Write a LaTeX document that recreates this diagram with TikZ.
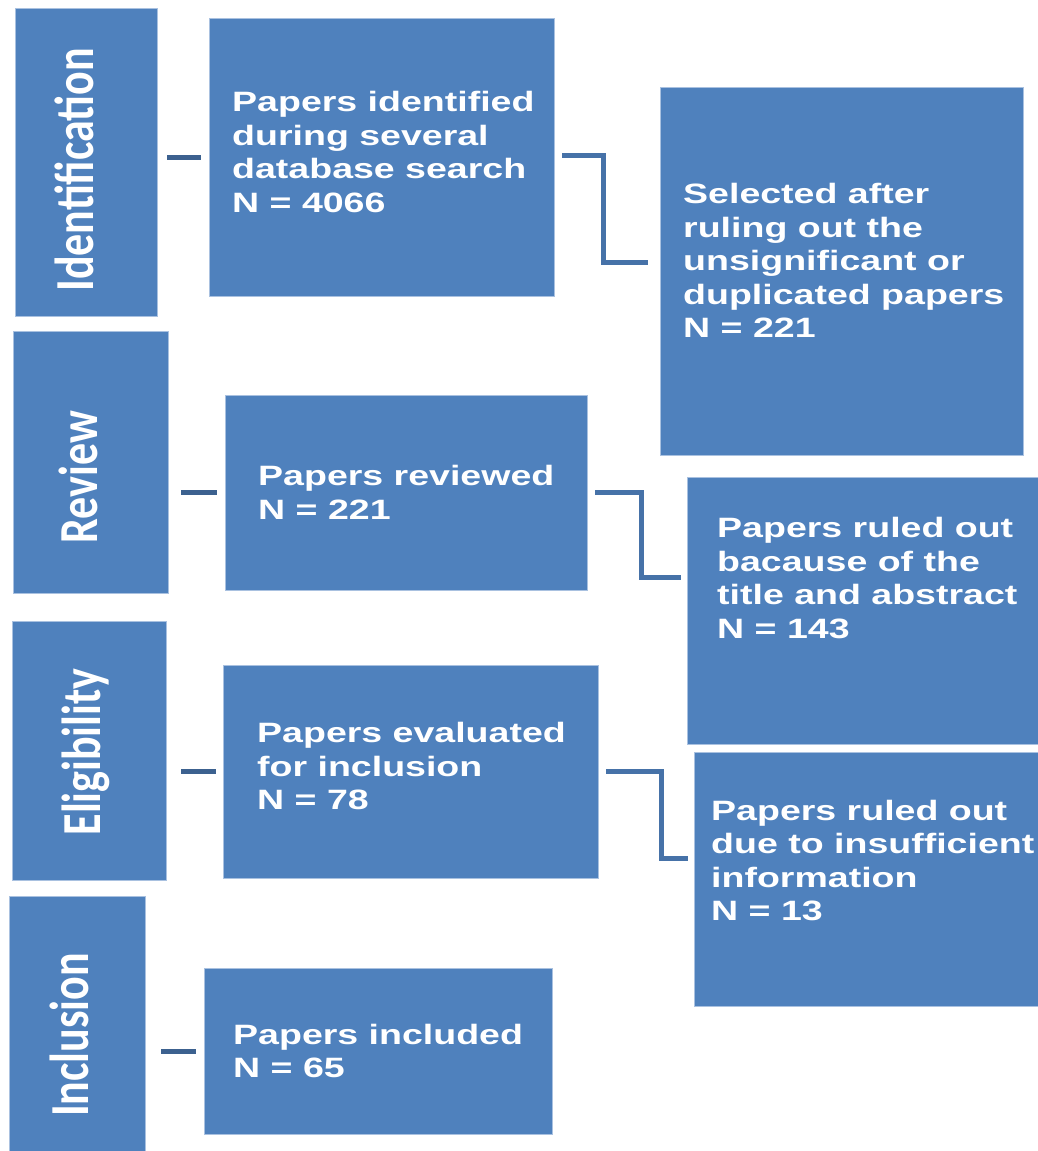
\documentclass[tikz,border=0pt]{standalone}
\usepackage{fontspec}
\newfontfamily\boxfont{Liberation Sans}[FakeStretch=1.34]
\newfontfamily\labfont{Carlito}
\definecolor{boxblue}{HTML}{4F81BD}
\definecolor{edgeblue}{HTML}{A9C1E0}
\definecolor{linkblue}{HTML}{4672A8}
\tikzset{
  mbox/.style={rectangle, fill=boxblue, draw=edgeblue, line width=0.8pt, inner sep=0pt},
  mtext/.style={anchor=north west, inner sep=0pt, align=left, text=white,
     font=\boxfont\bfseries\fontsize{28}{33.5}\selectfont},
  ltext/.style={anchor=base, rotate=90, inner sep=0pt, text=white,
     font=\labfont\bfseries\fontsize{44}{48}\selectfont},
  dashline/.style={draw=linkblue!85!black, line width=5pt},
  elbow/.style={draw=linkblue, line width=5pt}
}
\begin{document}
\begin{tikzpicture}[x=1pt,y=-1pt]
\useasboundingbox (0,0) rectangle (1037,1151);
% stage boxes
\node[mbox, minimum width=142, minimum height=308] (lab1) at (86,162) {};
\node[mbox, minimum width=155, minimum height=262] (lab2) at (90.5,462) {};
\node[mbox, minimum width=154, minimum height=259] (lab3) at (89,750.5) {};
\node[mbox, minimum width=136, minimum height=258] (lab4) at (77,1025) {};
\node[ltext] (t1) at (93,170) {\scalebox{1}[1.25]{Identification}};
\node[ltext] (t2) at (97,477) {\scalebox{1}[1.25]{Review}};
\node[ltext] (t3) at (100,752) {\scalebox{1}[1.25]{Eligibility}};
\node[ltext] (t4) at (88,1035) {\scalebox{1}[1.25]{Inclusion}};
% content boxes
\node[mbox, minimum width=345, minimum height=278] (b1) at (381.5,157) {};
\node[mbox, minimum width=363, minimum height=368] (b2) at (841.5,271) {};
\node[mbox, minimum width=362, minimum height=195] (b3) at (406,492.5) {};
\node[mbox, minimum width=353, minimum height=267] (b4) at (863.5,610.5) {};
\node[mbox, minimum width=375, minimum height=213] (b5) at (410.5,771.5) {};
\node[mbox, minimum width=346, minimum height=254] (b6) at (867,879) {};
\node[mbox, minimum width=348, minimum height=166] (b7) at (378,1051) {};
% texts
\node[mtext] (x1) at (232,91.5) {Papers identified\\during several\\database search\\N = 4066};
\node[mtext] (x2) at (683,183.5) {Selected after\\ruling out the\\unsignificant or\\duplicated papers\\N = 221};
\node[mtext] (x3) at (258,465.5) {Papers reviewed\\N = 221};
\node[mtext] (x4) at (717,517.5) {Papers ruled out\\bacause of the\\title and abstract\\N = 143};
\node[mtext] (x5) at (257,722.5) {Papers evaluated\\for inclusion\\N = 78};
\node[mtext] (x6) at (711,799.5) {Papers ruled out\\due to insufficient\\information\\N = 13};
\node[mtext] (x7) at (233,1023.5) {Papers included\\N = 65};
% short links
\draw[dashline] ([xshift=10pt]lab1.east |- b1.west) -- ([xshift=-8pt]b1.west);
\draw[dashline] ([xshift=13pt]lab2.east |- b3.west) -- ([xshift=-8pt]b3.west);
\draw[dashline] ([xshift=15pt]lab3.east |- b5.west) -- ([xshift=-7pt]b5.west);
\draw[dashline] ([xshift=16pt]lab4.east |- b7.west) -- ([xshift=-8pt]b7.west);
% elbow links
\draw[elbow] ([xshift=8pt,yshift=2pt]b1.east) -- ++(41,0) |- ([xshift=-12pt,yshift=9pt]b2.west);
\draw[elbow] ([xshift=8pt]b3.east) -- ++(46,0) |- ([xshift=-6pt,yshift=33.5pt]b4.west);
\draw[elbow] ([xshift=8pt]b5.east) -- ++(55,0) |- ([xshift=-6pt,yshift=21pt]b6.west);
\end{tikzpicture}
\end{document}
